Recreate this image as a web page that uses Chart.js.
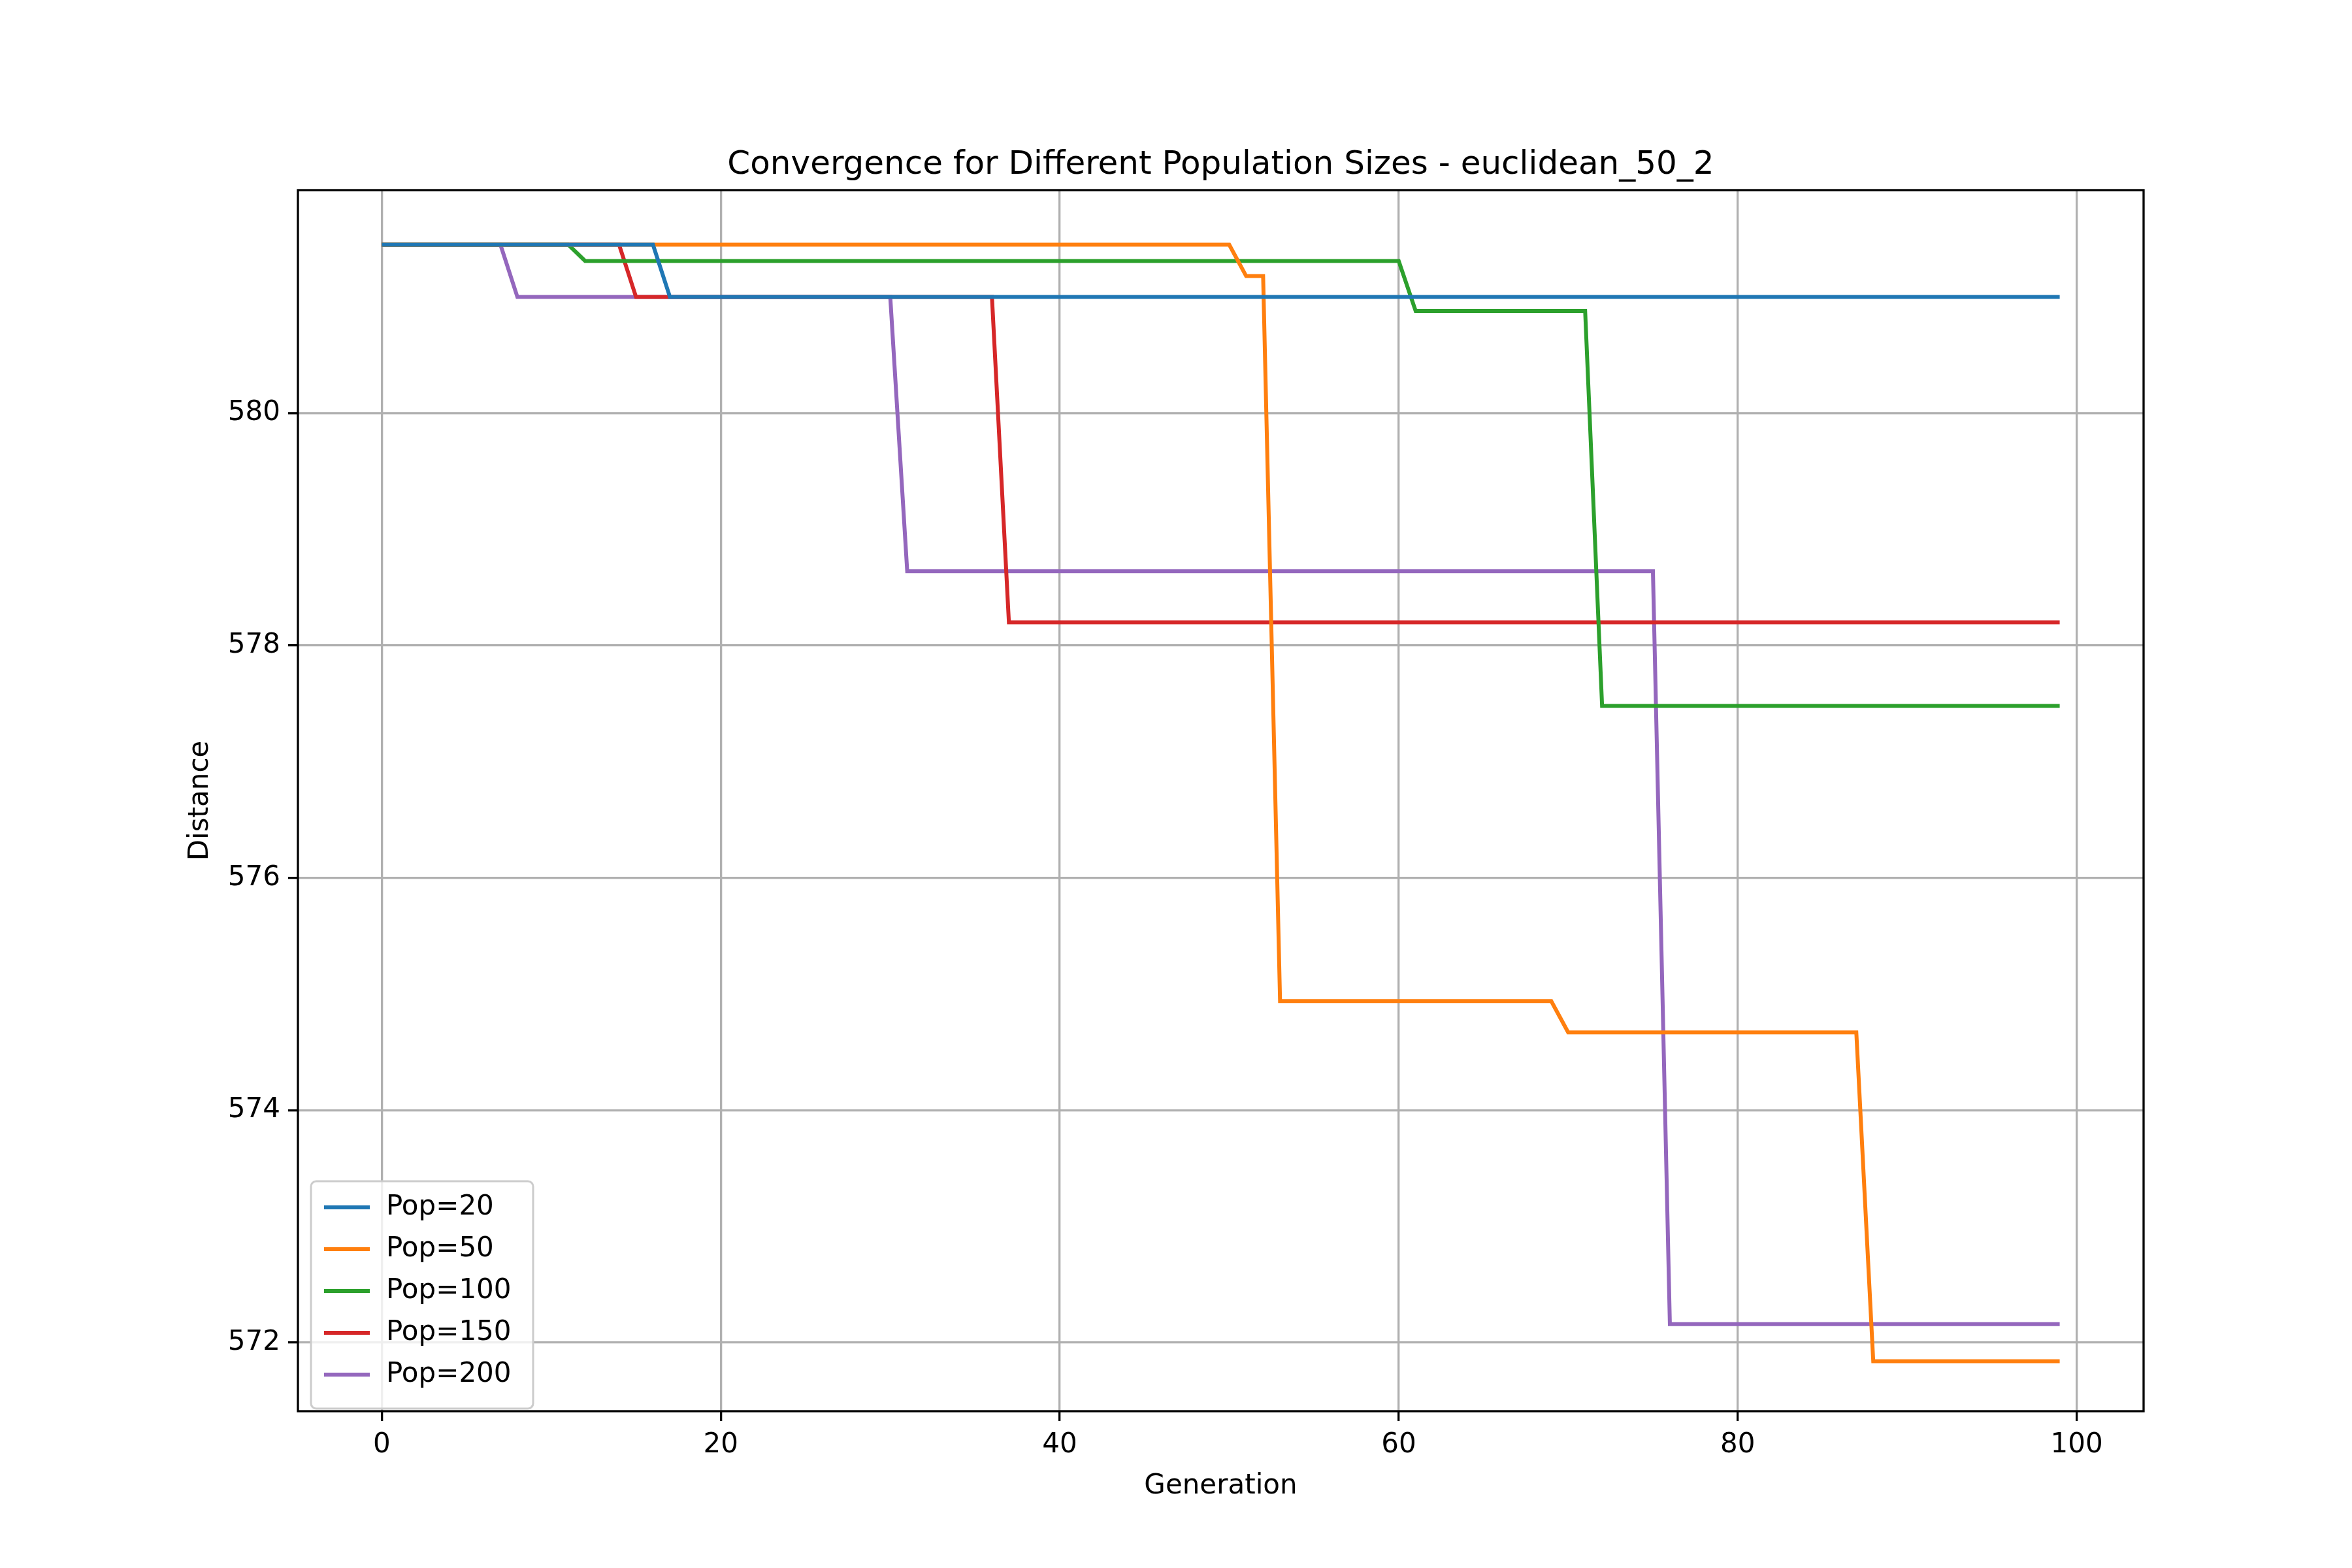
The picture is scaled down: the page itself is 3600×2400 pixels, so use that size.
<!DOCTYPE html>
<html>
<head>
<script src="https://cdn.jsdelivr.net/npm/chart.js@4"></script>
<style>
  body { margin: 0; background: #fff; }
  #wrap { width: 3600px; height: 2400px; }
</style>
</head>
<body>
<div id="wrap"><canvas id="myChart" width="3600" height="2400"></canvas></div>
<script>
// Data (breakpoints: generation -> best distance)
const labels = ["Pop=20", "Pop=50", "Pop=100", "Pop=150", "Pop=200"];
const colors = ["#1f77b4", "#ff7f0e", "#2ca02c", "#d62728", "#9467bd"];

const gen20 = [0, 16, 17, 99];
const dist20 = [581.45, 581.45, 581.0, 581.0];

const gen50 = [0, 50, 51, 52, 53, 69, 70, 87, 88, 99];
const dist50 = [581.45, 581.45, 581.18, 581.18, 574.94, 574.94, 574.67, 574.67, 571.84, 571.84];

const gen100 = [0, 11, 12, 60, 61, 71, 72, 99];
const dist100 = [581.45, 581.45, 581.31, 581.31, 580.88, 580.88, 577.48, 577.48];

const gen150 = [0, 14, 15, 36, 37, 99];
const dist150 = [581.45, 581.45, 581.0, 581.0, 578.2, 578.2];

const gen200 = [0, 7, 8, 30, 31, 75, 76, 99];
const dist200 = [581.45, 581.45, 581.0, 581.0, 578.64, 578.64, 572.16, 572.16];

const xTicks = [0, 20, 40, 60, 80, 100];
const yTicks = [572, 574, 576, 578, 580];

const series = [[gen20, dist20], [gen50, dist50], [gen100, dist100], [gen150, dist150], [gen200, dist200]];
const datasets = series.map((s, i) => ({
  label: labels[i],
  data: s[0].map((g, j) => ({ x: g, y: s[1][j] })),
  borderColor: colors[i],
  backgroundColor: colors[i],
  borderWidth: 6,
  pointRadius: 0,
  tension: 0,
}));

const FONT = "'DejaVu Sans', sans-serif";

// title + inset legend, drawn like matplotlib
const extras = {
  id: "extras",
  afterDraw(chart) {
    const ctx = chart.ctx;
    const a = chart.chartArea;
    ctx.save();
    ctx.strokeStyle = "#000";
    ctx.lineWidth = 3.3;
    ctx.strokeRect(a.left, a.top, a.right - a.left, a.bottom - a.top);
    ctx.fillStyle = "#000";
    ctx.font = "50px " + FONT;
    ctx.textAlign = "center";
    ctx.textBaseline = "alphabetic";
    ctx.fillText("Convergence for Different Population Sizes - euclidean_50_2", (a.left + a.right) / 2, a.top - 25);
    // legend
    const lx = a.left + 20, ly = 1808, lw = 340, rowH = 64;
    const lh = rowH * labels.length + 28;
    ctx.fillStyle = "rgba(255,255,255,0.8)";
    ctx.strokeStyle = "#cccccc";
    ctx.lineWidth = 3;
    ctx.beginPath();
    ctx.roundRect(lx, ly, lw, lh, 8);
    ctx.fill();
    ctx.stroke();
    ctx.font = "42px " + FONT;
    ctx.textAlign = "left";
    ctx.textBaseline = "middle";
    labels.forEach((l, i) => {
      const cy = ly + 40 + i * rowH;
      ctx.strokeStyle = colors[i];
      ctx.lineWidth = 6;
      ctx.beginPath();
      ctx.moveTo(lx + 20, cy);
      ctx.lineTo(lx + 90, cy);
      ctx.stroke();
      ctx.fillStyle = "#000";
      ctx.fillText(l, lx + 115, cy);
    });
    ctx.restore();
  }
};

const config = {
  type: "line",
  data: { datasets },
  options: {
    responsive: false,
    animation: false,
    devicePixelRatio: 1,
    layout: { padding: { left: 282, top: 291, right: 319, bottom: 100 } },
    plugins: { legend: { display: false }, title: { display: false }, tooltip: { enabled: false } },
    scales: {
      x: {
        type: "linear",
        min: -4.95,
        max: 103.95,
        afterBuildTicks: s => { s.ticks = xTicks.map(v => ({ value: v })); },
        afterFit: s => { s.height = 140; },
        grid: { color: "#b0b0b0", lineWidth: 3.3, tickLength: 15, tickColor: "#000", drawTicks: true },
        border: { display: false },
        ticks: { color: "#000", font: { family: FONT, size: 42 }, padding: 12, maxRotation: 0 },
        title: { display: true, text: "Generation", color: "#000", font: { family: FONT, size: 42 }, padding: { top: 10, bottom: 0 } },
      },
      y: {
        type: "linear",
        min: 571.41,
        max: 581.92,
        afterBuildTicks: s => { s.ticks = yTicks.map(v => ({ value: v })); },
        afterFit: s => { s.width = 174; },
        grid: { color: "#b0b0b0", lineWidth: 3.3, tickLength: 15, tickColor: "#000", drawTicks: true },
        border: { display: false },
        ticks: { color: "#000", font: { family: FONT, size: 42 }, padding: 12 },
        title: { display: true, text: "Distance", color: "#000", font: { family: FONT, size: 42 }, padding: { top: 0, bottom: 0 } },
      },
    },
  },
  plugins: [extras],
};

const myChart = new Chart(document.getElementById("myChart"), config);
</script>
</body>
</html>
